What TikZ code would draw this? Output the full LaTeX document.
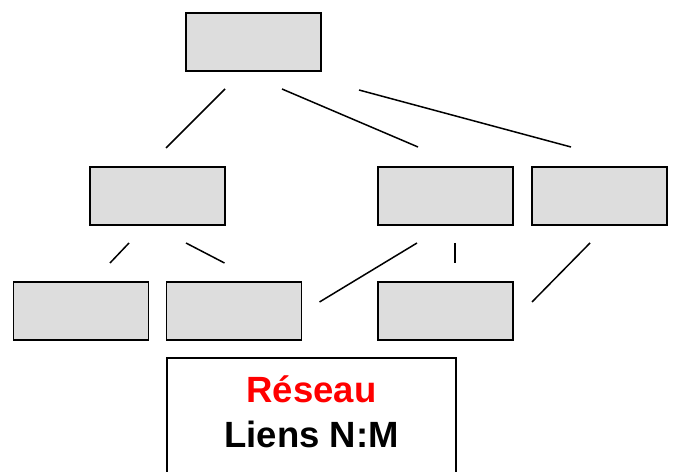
\documentclass[tikz,border=0pt]{standalone}
\usepackage{fontspec}
\setmainfont{Liberation Sans}
\usepackage{tikz}
\usetikzlibrary{positioning,calc}
\definecolor{cellgray}{HTML}{DDDDDD}

\begin{document}
\begin{tikzpicture}[x=1pt,y=1pt,
    cell/.style={draw,line width=1.6pt,fill=cellgray,minimum width=135pt,minimum height=58pt,inner sep=0pt,outer sep=0pt},
    link/.style={line width=1.5pt},
    notebox/.style={draw,line width=1.6pt,fill=white,minimum width=289pt,minimum height=150pt,outer sep=0pt,anchor=north},
    title/.style={font=\fontsize{36.5}{40}\selectfont\bfseries,anchor=base}]
    \clip (0,0) rectangle (674,471);
    \node[cell] (v1) at (253.5,429) {};
    \node[cell,below=96pt of v1,xshift=-96pt] (v2) {};
    \node[cell,right=153pt of v2] (v3) {};
    \node[cell,right=19pt of v3] (v4) {};
    \node[cell,below=57pt of v2,xshift=-76.5pt] (v5) {};
    \node[cell,right=18pt of v5] (v6) {};
    \node[cell,below=57pt of v3] (v7) {};

    \draw[link] ($(v1.south)+(-28.5,-18)$) -- ($(v2.north)+(8.5,19)$);
    \draw[link] ($(v1.south)+(28.5,-18)$) -- ($(v3.north)+(-27.5,20)$);
    \draw[link] ($(v1.south)+(105.5,-19)$) -- ($(v4.north)+(-28.5,20)$);
    \draw[link] ($(v2.south)+(-28.5,-18)$) -- ($(v5.north)+(29,19)$);
    \draw[link] ($(v2.south)+(28.5,-18)$) -- ($(v6.north)+(-9.5,19)$);
    \draw[link] ($(v3.south)+(-28.5,-18)$) -- ($(v6.east)+(18,9)$);
    \draw[link] ($(v3.south)+(9.5,-18)$) -- ($(v7.north)+(9.5,19)$);
    \draw[link] ($(v4.south)+(-9.5,-18)$) -- ($(v7.east)+(19,9)$);

    \node[notebox] (note) at (311.5,113) {};
    \node[title,text=red] (t1) at ([yshift=-45pt]note.north) {Réseau};
    \node[title] (t2) at ([yshift=-89pt]note.north) {Liens N:M};
\end{tikzpicture}
\end{document}
